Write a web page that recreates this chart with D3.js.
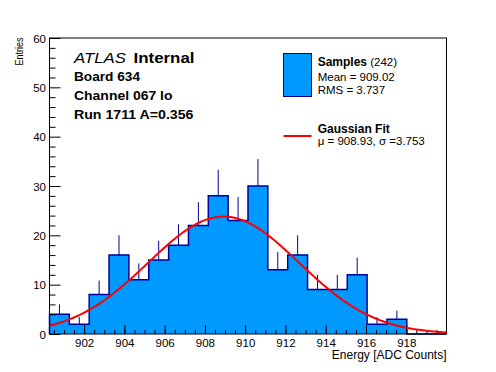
<!DOCTYPE html>
<html>
<head>
<meta charset="utf-8">
<script src="https://cdn.jsdelivr.net/npm/d3@7"></script>
<style>
  html, body { margin: 0; padding: 0; background: #fff; }
  svg { display: block; font-family: "Liberation Sans", Arial, Helvetica, sans-serif; }
</style>
</head>
<body>
<svg id="chart" width="496" height="372"></svg>
<script>
// histogram: 20 bins over the energy range
const energyRange = [900.28, 920.0];
const binCounts = [4, 2, 8, 16, 11, 15, 18, 22, 28, 23, 30, 13, 16, 9, 9, 12, 2, 3, 0, 0];

// gaussian fit: constant, mean, sigma
const fitParams = [23.8, 908.93, 3.753];

const xMajorTicks = [902, 904, 906, 908, 910, 912, 914, 916, 918];
const yMajorTicks = [0, 10, 20, 30, 40, 50, 60];

const infoLines = ["Board 634", "Channel 067 lo", "Run 1711 A=0.356"];
const statLines = ["Mean = 909.02", "RMS = 3.737"];
const fitLabel = "\u03bc = 908.93, \u03c3 =3.753";
const nEntries = 242;

const fillBlue = "#0099ff";
const lineBlue = "#000099";

const frame = { left: 49.5, right: 446.5, top: 38, bottom: 334 };

const svg = d3.select("#chart");

const x = d3.scaleLinear().domain(energyRange).range([frame.left, frame.right]);
const y = d3.scaleLinear().domain([0, 60]).range([frame.bottom, frame.top]);

const binWidth = (energyRange[1] - energyRange[0]) / binCounts.length;
const bins = binCounts.map((c, i) => ({
    x0: energyRange[0] + i * binWidth,
    x1: energyRange[0] + (i + 1) * binWidth,
    n: c
}));

// error bars first, the filled histogram hides the lower half
svg.append("g")
    .selectAll("line")
    .data(bins.filter(b => b.n > 0))
    .join("line")
    .attr("x1", b => x((b.x0 + b.x1) / 2))
    .attr("x2", b => x((b.x0 + b.x1) / 2))
    .attr("y1", b => y(b.n - Math.sqrt(b.n)))
    .attr("y2", b => y(b.n + Math.sqrt(b.n)))
    .attr("stroke", lineBlue)
    .attr("stroke-width", 1);

// step outline of the histogram
const stepPts = [[bins[0].x0, 0]];
bins.forEach(b => { stepPts.push([b.x0, b.n]); stepPts.push([b.x1, b.n]); });
stepPts.push([bins[bins.length - 1].x1, 0]);
const stepLine = d3.line().x(d => x(d[0])).y(d => y(d[1]));

svg.append("path")
    .attr("d", stepLine(stepPts))
    .attr("fill", fillBlue)
    .attr("stroke", lineBlue)
    .attr("stroke-width", 1.5);

// frame
svg.append("rect")
    .attr("x", frame.left).attr("y", frame.top)
    .attr("width", frame.right - frame.left)
    .attr("height", frame.bottom - frame.top)
    .attr("fill", "none")
    .attr("stroke", "#000")
    .attr("stroke-width", 1);

// x axis, ticks point into the frame
const xMinor = d3.range(900.5, 920, 0.5).filter(v => v > energyRange[0] && v < energyRange[1]);
const xAxisMinor = d3.axisTop(x).tickValues(xMinor).tickSize(4).tickFormat("");
const xAxisMajor = d3.axisTop(x).tickValues(xMajorTicks).tickSize(9).tickFormat(d3.format("d"));

[xAxisMinor, xAxisMajor].forEach(ax => {
    const g = svg.append("g").attr("transform", `translate(0,${frame.bottom})`).call(ax);
    g.select(".domain").remove();
    g.selectAll(".tick line").attr("stroke", "#000");
    g.selectAll(".tick text")
        .attr("y", 12.5)
        .attr("dy", 0)
        .attr("font-size", 11.5)
        .attr("font-family", "Liberation Sans, Arial, sans-serif")
        .attr("fill", "#000")
        .attr("text-anchor", "middle");
});

const yMinor = d3.range(2, 60, 2).filter(v => v % 10 !== 0);
const yAxisMinor = d3.axisRight(y).tickValues(yMinor).tickSize(6).tickFormat("");
const yAxisMajor = d3.axisRight(y).tickValues(yMajorTicks).tickSize(11).tickFormat(d3.format("d"));

[yAxisMinor, yAxisMajor].forEach(ax => {
    const g = svg.append("g").attr("transform", `translate(${frame.left},0)`).call(ax);
    g.select(".domain").remove();
    g.selectAll(".tick line").attr("stroke", "#000");
    g.selectAll(".tick text")
        .attr("x", -3.5)
        .attr("dy", "0.36em")
        .attr("font-size", 11.5)
        .attr("font-family", "Liberation Sans, Arial, sans-serif")
        .attr("fill", "#000")
        .attr("text-anchor", "end");
});

// axis titles
svg.append("text")
    .attr("x", frame.right).attr("y", 358.5)
    .attr("text-anchor", "end")
    .attr("font-size", 12)
    .text("Energy [ADC Counts]");

svg.append("text")
    .attr("transform", `translate(23,${frame.top - 0.5}) rotate(-90)`)
    .attr("text-anchor", "end")
    .attr("font-size", 11.5)
    .attr("textLength", 28)
    .attr("lengthAdjust", "spacingAndGlyphs")
    .text("Entries");

// gaussian fit curve across the full range
const gauss = v => fitParams[0] * Math.exp(-0.5 * Math.pow((v - fitParams[1]) / fitParams[2], 2));
const fitPts = d3.range(0, 201).map(i => {
    const v = energyRange[0] + i * (energyRange[1] - energyRange[0]) / 200;
    return [v, gauss(v)];
});
svg.append("path")
    .attr("d", d3.line().x(d => x(d[0])).y(d => y(d[1]))(fitPts))
    .attr("fill", "none")
    .attr("stroke", "#ff0000")
    .attr("stroke-width", 2);

// top-left label block
const atlas = svg.append("text").attr("x", 74).attr("y", 62.5).attr("font-size", 14);
atlas.append("tspan").attr("font-style", "italic")
    .attr("textLength", 52).attr("lengthAdjust", "spacingAndGlyphs").text("ATLAS");
atlas.append("tspan").attr("x", 133.5).attr("font-weight", "bold")
    .attr("textLength", 61).attr("lengthAdjust", "spacingAndGlyphs").text("Internal");

const infoWidths = [66, 98.5, 119.5];
svg.append("g")
    .selectAll("text")
    .data(infoLines)
    .join("text")
    .attr("x", 74)
    .attr("y", (d, i) => 81 + i * 18.75)
    .attr("font-size", 12)
    .attr("font-weight", "bold")
    .attr("textLength", (d, i) => infoWidths[i])
    .attr("lengthAdjust", "spacingAndGlyphs")
    .text(d => d);

// legend
svg.append("rect")
    .attr("x", 283.5).attr("y", 53.5)
    .attr("width", 28).attr("height", 43)
    .attr("fill", fillBlue)
    .attr("stroke", lineBlue)
    .attr("stroke-width", 1);

const samples = svg.append("text").attr("x", 317.7).attr("y", 65.7).attr("font-size", 12);
samples.append("tspan").attr("font-weight", "bold").text("Samples");
samples.append("tspan").attr("font-size", 11.5).text(` (${nEntries})`);

svg.append("g")
    .selectAll("text")
    .data(statLines)
    .join("text")
    .attr("x", 317.7)
    .attr("y", (d, i) => 80.7 + i * 12.8)
    .attr("font-size", 11.5)
    .text(d => d);

svg.append("line")
    .attr("x1", 283.5).attr("x2", 311.5)
    .attr("y1", 136).attr("y2", 136)
    .attr("stroke", "#ff0000")
    .attr("stroke-width", 2);

svg.append("text")
    .attr("x", 317.7).attr("y", 132.7)
    .attr("font-size", 12)
    .attr("font-weight", "bold")
    .text("Gaussian Fit");

svg.append("text")
    .attr("x", 317.7).attr("y", 144.5)
    .attr("font-size", 11.5)
    .text(fitLabel);
</script>
</body>
</html>
